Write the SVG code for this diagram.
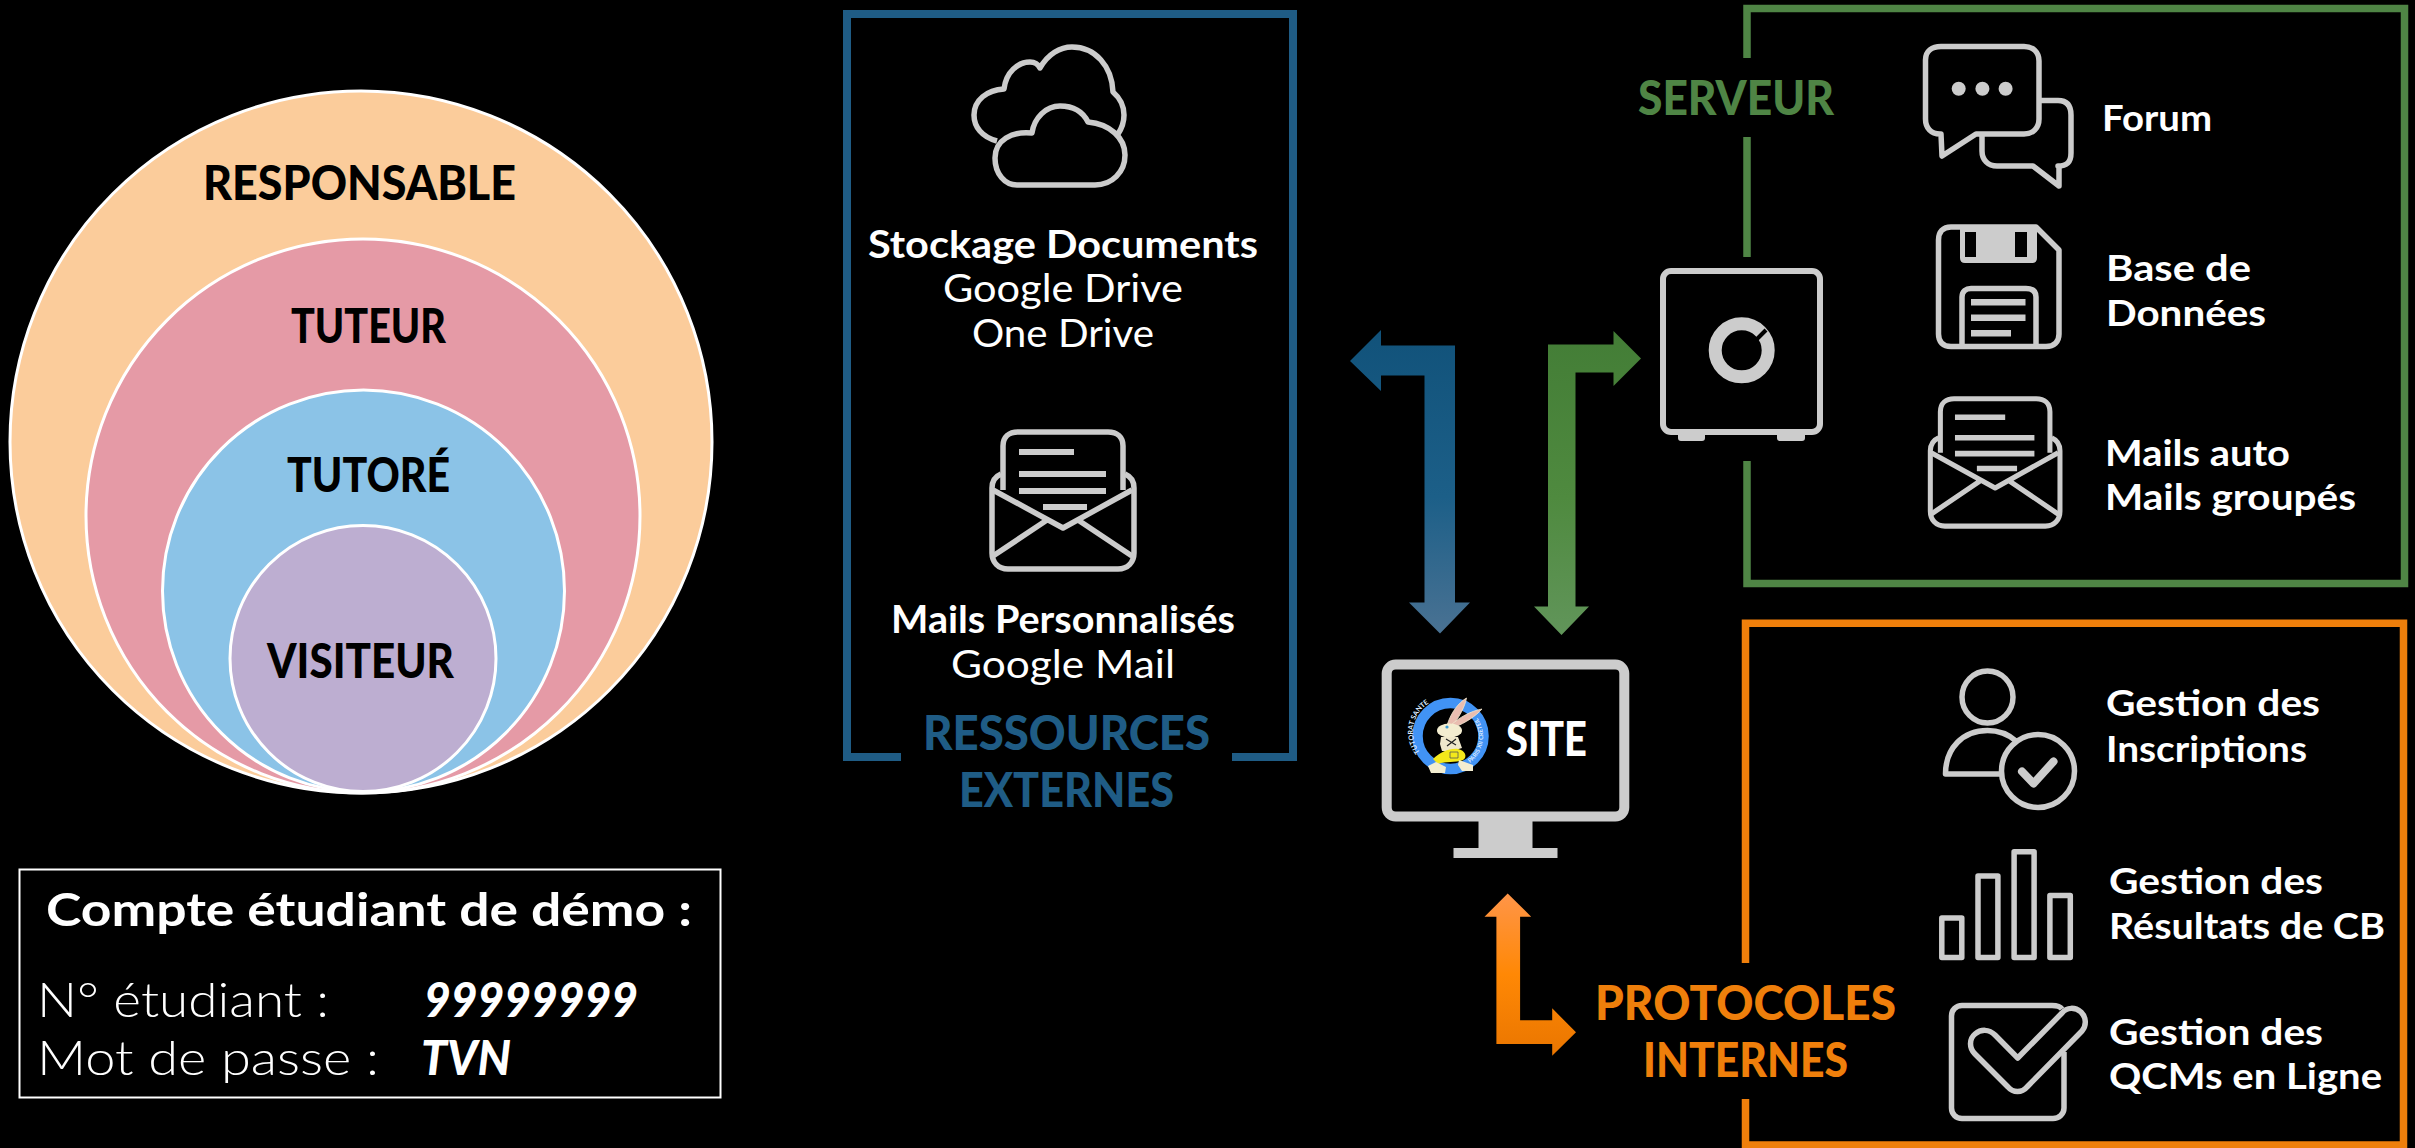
<svg xmlns="http://www.w3.org/2000/svg" xmlns:xlink="http://www.w3.org/1999/xlink" width="2415" height="1148" viewBox="0 0 2415 1148">
<style>
text{font-family:"Lato","Liberation Sans",sans-serif}
.b{font-weight:700;fill:#fff}
.l{font-weight:300;fill:#fff}
.r{font-weight:400;fill:#fff}
.bi{font-weight:900;font-style:italic;fill:#fff}
.k{font-weight:900;fill:#000;font-size:47px}
.h{font-weight:900;font-size:48px}
.t{font-size:36px}
.s{font-size:38px}
.i{fill:none;stroke:#ccc;stroke-width:5.5;stroke-linejoin:round}
.f{fill:#ccc}
.c{stroke:#fff;stroke-width:3}
</style>
<defs>
<linearGradient id="gb" x1="0" y1="0" x2="0" y2="1"><stop offset="0" stop-color="#11527A"/><stop offset=".55" stop-color="#1C5F88"/><stop offset="1" stop-color="#4A7293"/></linearGradient>
<linearGradient id="gg" x1="0" y1="0" x2="0" y2="1"><stop offset="0" stop-color="#437D36"/><stop offset=".55" stop-color="#4F8A3F"/><stop offset="1" stop-color="#61955A"/></linearGradient>
<linearGradient id="go" x1="0" y1="0" x2="0" y2="1"><stop offset="0" stop-color="#FF9548"/><stop offset=".5" stop-color="#FF8805"/><stop offset="1" stop-color="#EA7600"/></linearGradient>
<g id="env">
<path class="i" d="M13 62V18C13 9 19 4 28 4H118C127 4 133 9 133 18V62"/>
<path class="f" d="M29 21H84V27H29ZM29 43H116V49H29ZM29 60H116V66H29ZM53 76H97V82H53Z"/>
<path class="i" d="M11 46C4 49 2 54 2 60V125C2 134 8 141 18 141H128C138 141 144 134 144 125V60C144 54 142 49 135 46"/>
<path class="i" d="M3 62L73 100L142 62M3 128L57 92M142 128L88 92"/>
</g>
<path id="ra" d="M1420 752A33 33 0 0 1 1472 711"/>
<path id="rb" d="M1470 763A33 33 0 0 0 1478 719"/>
</defs>
<rect width="2415" height="1148" fill="#000"/>

<g id="connectors">
<polygon fill="url(#gb)" points="1350,361 1381,330 1381,345.5 1455,345.5 1455,602.5 1470,602.5 1440,633.5 1409,602.5 1424.5,602.5 1424.5,375.5 1381,375.5 1381,391"/>
<polygon fill="url(#gg)" points="1641,358.5 1613.5,331 1613.5,344.5 1548,344.5 1548,606.5 1534,606.5 1561.5,635 1589,606.5 1575.5,606.5 1575.5,372.5 1613.5,372.5 1613.5,386"/>
<polygon fill="url(#go)" points="1507.7,893.5 1484.5,916.7 1496.4,916.7 1496.4,1044 1552.2,1044 1552.2,1055.7 1576,1032.3 1552.2,1008.3 1552.2,1020.3 1520.1,1020.3 1520.1,916.7 1531.2,916.7"/>
</g>

<g id="role-responsable"><circle class="c" cx="361" cy="442" r="351" fill="#FBCC9B"/><text class="k" x="203" y="200" textLength="313" lengthAdjust="spacingAndGlyphs">RESPONSABLE</text></g>
<g id="role-tuteur"><circle class="c" cx="363" cy="516" r="277" fill="#E59AA6"/><text class="k" x="291" y="343" textLength="155" lengthAdjust="spacingAndGlyphs">TUTEUR</text></g>
<g id="role-tutore"><circle class="c" cx="363.500" cy="591" r="201" fill="#8BC3E7"/><text class="k" x="287" y="492" textLength="163" lengthAdjust="spacingAndGlyphs">TUTORÉ</text></g>
<g id="role-visiteur"><circle class="c" cx="363" cy="658.500" r="133" fill="#BDAED1"/><text class="k" x="267" y="678" textLength="187" lengthAdjust="spacingAndGlyphs">VISITEUR</text></g>

<g id="demo-account">
<rect x="19.500" y="869.500" width="701" height="228" fill="none" stroke="#fff" stroke-width="2"/>
<text class="b" x="46" y="926" font-size="45" textLength="646" lengthAdjust="spacingAndGlyphs">Compte étudiant de démo :</text>
<text class="l" x="37" y="1017" font-size="48" textLength="292" lengthAdjust="spacingAndGlyphs">N° étudiant :</text>
<text class="bi" x="424" y="1017" font-size="47" textLength="214" lengthAdjust="spacingAndGlyphs">99999999</text>
<text class="l" x="37" y="1075" font-size="48" textLength="342" lengthAdjust="spacingAndGlyphs">Mot de passe :</text>
<text class="bi" x="421" y="1075" font-size="47" textLength="90" lengthAdjust="spacingAndGlyphs">TVN</text>
</g>

<g id="external-resources">
<path d="M901 757H847V14H1293V757H1232" fill="none" stroke="#1F5C85" stroke-width="8"/>
<path class="i" d="M997 141C982 137 974 127 974 115C974 100 987 90 1004 89C1006 72 1018 62 1030 62C1034 62 1038 64 1040 68C1048 54 1060 47 1072 47C1095 47 1112 66 1113 92C1120 98 1124 106 1124 115C1124 122 1122 128 1118 134"/>
<path class="i" d="M1017 185H1095C1112 185 1125 172 1125 155C1125 138 1110 124 1088 122C1082 110 1072 106 1060 106C1046 106 1034 118 1032 133C1012 131 995 140 995 158C995 174 1005 185 1017 185Z"/>
<text class="b s" x="868" y="258" textLength="390" lengthAdjust="spacingAndGlyphs">Stockage Documents</text>
<text class="r s" x="943" y="302" textLength="240" lengthAdjust="spacingAndGlyphs">Google Drive</text>
<text class="r s" x="972" y="347" textLength="182" lengthAdjust="spacingAndGlyphs">One Drive</text>
<use xlink:href="#env" href="#env" transform="translate(990 428)"/>
<text class="b s" x="891" y="633" textLength="344" lengthAdjust="spacingAndGlyphs">Mails Personnalisés</text>
<text class="r s" x="951" y="678" textLength="224" lengthAdjust="spacingAndGlyphs">Google Mail</text>
<text class="h" fill="#1F5C85" x="923" y="750" textLength="287" lengthAdjust="spacingAndGlyphs">RESSOURCES</text>
<text class="h" fill="#1F5C85" x="959" y="807" textLength="215" lengthAdjust="spacingAndGlyphs">EXTERNES</text>
</g>

<g id="site">
<rect x="1386.700" y="664.600" width="237.600" height="152" rx="9" fill="none" stroke="#ccc" stroke-width="10"/>
<path class="f" d="M1478.500 821H1532.500V848H1557.500V858H1453.500V848H1478.500Z"/>
<circle cx="1450.500" cy="736" r="33" fill="none" stroke="#4193F5" stroke-width="10.500"/>
<text font-size="7" fill="#dcebff" font-weight="700"><textPath xlink:href="#ra" href="#ra">TUTORAT SANTE</textPath></text>
<text font-size="6" fill="#dcebff" font-weight="700"><textPath xlink:href="#rb" href="#rb">PARIS XII CRETEIL</textPath></text>
<path d="M1447.500 724C1451 713 1458 703 1466.500 698C1465 706 1460 716 1453 725Z" fill="#E9BDB0" stroke="#F3EAD0" stroke-width=".8"/>
<path d="M1451 725C1460 717 1471 711 1482 709C1476 716 1465 723 1455 727Z" fill="#E9BDB0" stroke="#F3EAD0" stroke-width=".8"/>
<ellipse cx="1449.500" cy="730.500" rx="12.500" ry="7" fill="#F3EDD0"/>
<path d="M1441 737H1458L1462 748L1452 751H1442L1440 744Z" fill="#EFE8CC"/>
<circle cx="1447" cy="727" r="1.600" fill="#3A9BD5"/>
<path d="M1446 739L1456 745M1456 739L1447 746" stroke="#222" stroke-width="1.200"/>
<path d="M1433 759C1440 752 1450 748 1458 749C1465 750 1468 757 1463 760C1455 763 1446 761 1438 764Z" fill="#F4E81A"/>
<path d="M1450 752H1458V758H1450Z" fill="none" stroke="#555" stroke-width=".8"/>
<path d="M1436 762L1428 766L1431 773H1445L1446 767ZM1459 760L1458 765L1462 771L1473 771V765Z" fill="#F3EDD0"/>
<text class="b" style="font-weight:900" x="1506" y="756" font-size="48" textLength="81" lengthAdjust="spacingAndGlyphs">SITE</text>
</g>

<g id="server">
<path d="M1747 58V8.500H2404.500V583.500H1747V461M1747 257V137" fill="none" stroke="#4F8545" stroke-width="7.500"/>
<text class="h" fill="#4F8545" x="1638" y="115" font-size="46" textLength="196" lengthAdjust="spacingAndGlyphs">SERVEUR</text>
<rect x="1663" y="271" width="157" height="161" rx="8" fill="none" stroke="#ccc" stroke-width="6"/>
<path class="f" d="M1678 432H1705V438Q1705 441 1702 441H1681Q1678 441 1678 438ZM1777 432H1805V438Q1805 441 1802 441H1780Q1777 441 1777 438Z"/>
<circle cx="1741.700" cy="350.300" r="26.500" fill="none" stroke="#ccc" stroke-width="13"/>
<path d="M1756 340L1766 330" stroke="#000" stroke-width="4" fill="none"/>
<path class="i" d="M1941 134H1940C1931 134 1925.500 128 1925.500 119V60C1925.500 51 1932 46.500 1941 46.500H2024C2033 46.500 2039 52 2039 61V119C2039 128 2033 134 2024 134H1976L1942 156Z"/>
<path class="i" d="M2041 100.500H2058C2067 100.500 2071 106 2071 115V153C2071 162 2067 166 2058 166H2059V186L2033 166H1997C1988 166 1982 160 1982 151V134"/>
<circle class="f" cx="1958.700" cy="88.800" r="7"/><circle class="f" cx="1982.400" cy="88.800" r="7"/><circle class="f" cx="2005.600" cy="88.800" r="7"/>
<text class="b t" x="2102" y="131" textLength="110" lengthAdjust="spacingAndGlyphs">Forum</text>
<path class="i" d="M1951 227H2036L2059 250V334C2059 342 2054 346.500 2046 346.500H1951C1943 346.500 1938.500 342 1938.500 334V240C1938.500 232 1943 227 1951 227Z"/>
<path class="f" d="M1960 225H2037V258Q2037 263 2032 263H1965Q1960 263 1960 258ZM1965 232V257H1976V232ZM2015 232V257H2027V232Z" fill-rule="evenodd"/>
<path class="i" d="M1962 347V297C1962 291 1966 288.500 1971 288.500H2026C2032 288.500 2036 291 2036 297V347"/>
<path class="f" d="M1971 299H2025.500V305.500H1971ZM1971 314.500H2025.500V321H1971ZM1971 330H2011V336.500H1971Z"/>
<text class="b t" x="2106" y="281" textLength="145" lengthAdjust="spacingAndGlyphs">Base de</text>
<text class="b t" x="2106" y="326" textLength="160" lengthAdjust="spacingAndGlyphs">Données</text>
<use xlink:href="#env" href="#env" transform="translate(1928.500 395) scale(.913 .93)"/>
<text class="b t" x="2105" y="466" textLength="185" lengthAdjust="spacingAndGlyphs">Mails auto</text>
<text class="b t" x="2105" y="510" textLength="251" lengthAdjust="spacingAndGlyphs">Mails groupés</text>
</g>

<g id="internal-protocols">
<path d="M1745.500 963V623.300H2403.500V1145H1745.500V1099" fill="none" stroke="#EF7F0B" stroke-width="7.500"/>
<text class="h" fill="#EF7F0B" x="1595" y="1020" textLength="301" lengthAdjust="spacingAndGlyphs">PROTOCOLES</text>
<text class="h" fill="#EF7F0B" x="1643" y="1077" textLength="205" lengthAdjust="spacingAndGlyphs">INTERNES</text>
<ellipse class="i" cx="1987.500" cy="697" rx="25.500" ry="26"/>
<path class="i" d="M2000 774H1945.500C1945.500 748 1963 730.500 1987.500 730.500C1998 730.500 2008 734 2016 741"/>
<circle class="i" cx="2038" cy="771" r="36.500"/>
<path d="M2022 771.500L2033.500 783.500L2053.500 761.500" fill="none" stroke="#ccc" stroke-width="8" stroke-linecap="round" stroke-linejoin="round"/>
<text class="b t" x="2106" y="716" textLength="214" lengthAdjust="spacingAndGlyphs">Gestion des</text>
<text class="b t" x="2106" y="762" textLength="201" lengthAdjust="spacingAndGlyphs">Inscriptions</text>
<path class="i" d="M1941.800 917.900H1961.800V957.500H1941.800ZM1978 876.100H1997.900V957.500H1978ZM2014.100 851.700H2034.100V957.500H2014.100ZM2049.900 895.500H2070.300V957.500H2049.900Z" stroke-linejoin="miter"/>
<text class="b t" x="2109" y="894" textLength="214" lengthAdjust="spacingAndGlyphs">Gestion des</text>
<text class="b t" x="2109" y="939" textLength="276" lengthAdjust="spacingAndGlyphs">Résultats de CB</text>
<path class="i" d="M2062 1009C2060 1006 2057 1005.500 2052 1005.500H1962C1956 1005.500 1951.500 1010 1951.500 1016V1108C1951.500 1114 1956 1118.500 1962 1118.500H2053C2059 1118.500 2064 1114 2064 1108V1052"/>
<path class="i" d="M2017.700 1058L2062 1013C2067 1007 2075 1007 2081 1012C2086 1017 2087 1025 2082 1031L2027 1087C2022 1093 2013 1093 2008 1087L1975 1054C1969 1048 1969 1039 1975 1034C1981 1029 1989 1029 1995 1035Z"/>
<text class="b t" x="2109" y="1045" textLength="214" lengthAdjust="spacingAndGlyphs">Gestion des</text>
<text class="b t" x="2109" y="1089" textLength="273" lengthAdjust="spacingAndGlyphs">QCMs en Ligne</text>
</g>
</svg>
